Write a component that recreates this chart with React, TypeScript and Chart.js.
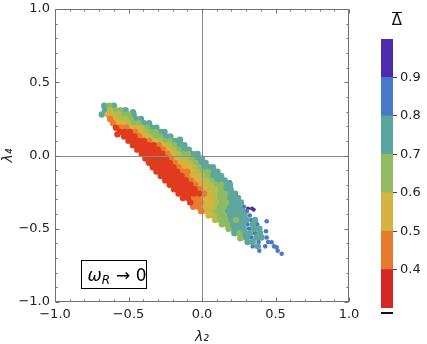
import { useEffect, useRef } from "react";
import { Chart, registerables } from "chart.js";

Chart.register(...registerables);

// ---- axis ticks ----
const majorTicks = [-1, -0.5, 0, 0.5, 1];
const minorTicks = [-0.9, -0.8, -0.7, -0.6, -0.4, -0.3, -0.2, -0.1, 0.1, 0.2, 0.3, 0.4, 0.6, 0.7, 0.8, 0.9];

// ---- colour bar ----
const colorbarEdges = [0.3, 0.4, 0.5, 0.6, 0.7, 0.8, 0.9, 1.0];
const colorbarColors = ["#d62626", "#e87a30", "#d5b343", "#92bb61", "#5ca59f", "#4878cc", "#4b2cae"];
const colorbarTicks = [0.4, 0.5, 0.6, 0.7, 0.8, 0.9];

// ---- scatter points (x, y pairs) grouped by Delta-bar colour ----
const redPts = [
  -0.585, 0.19, -0.575, 0.145,
  -0.56, 0.16, -0.525, 0.16, -0.49, 0.16,
  -0.53, 0.13, -0.495, 0.13, -0.46, 0.13,
  -0.5, 0.1, -0.465, 0.1, -0.43, 0.1, -0.395, 0.1,
  -0.47, 0.07, -0.435, 0.07, -0.4, 0.07, -0.365, 0.07, -0.33, 0.07,
  -0.44, 0.04, -0.405, 0.04, -0.37, 0.04, -0.335, 0.04, -0.3, 0.04,
  -0.41, 0.01, -0.375, 0.01, -0.34, 0.01, -0.305, 0.01, -0.27, 0.01,
  -0.385, -0.02, -0.35, -0.02, -0.315, -0.02, -0.28, -0.02, -0.245, -0.02,
  -0.36, -0.05, -0.325, -0.05, -0.29, -0.05, -0.255, -0.05, -0.22, -0.05,
  -0.335, -0.08, -0.3, -0.08, -0.265, -0.08, -0.23, -0.08, -0.195, -0.08,
  -0.31, -0.11, -0.275, -0.11, -0.24, -0.11, -0.205, -0.11, -0.17, -0.11,
  -0.28, -0.14, -0.245, -0.14, -0.21, -0.14, -0.175, -0.14, -0.14, -0.14,
  -0.25, -0.17, -0.215, -0.17, -0.18, -0.17, -0.145, -0.17, -0.11, -0.17,
  -0.22, -0.2, -0.185, -0.2, -0.15, -0.2, -0.115, -0.2, -0.08, -0.2,
  -0.19, -0.23, -0.155, -0.23, -0.12, -0.23, -0.085, -0.23, -0.05, -0.23,
  -0.16, -0.26, -0.125, -0.26, -0.09, -0.26, -0.055, -0.26, -0.02, -0.26,
  -0.13, -0.29, -0.095, -0.29,
  -0.08, -0.32,
];

const orangePts = [
  -0.625, 0.25, -0.605, 0.22,
  -0.55, 0.19, -0.515, 0.19,
  -0.455, 0.16, -0.425, 0.13, -0.36, 0.1, -0.295, 0.07, -0.265, 0.04,
  -0.235, 0.01, -0.21, -0.02, -0.185, -0.05, -0.16, -0.08,
  -0.135, -0.11, -0.1, -0.11,
  -0.105, -0.14, -0.075, -0.17, -0.045, -0.2, -0.015, -0.23, 0.015, -0.26,
  -0.06, -0.29, -0.025, -0.29,
  -0.045, -0.32, -0.01, -0.32,
  -0.06, -0.35, -0.025, -0.35,
  -0.005, -0.38,
];

const yellowPts = [
  -0.64, 0.28, -0.59, 0.25,
  -0.57, 0.22, -0.535, 0.22,
  -0.48, 0.19, -0.445, 0.19,
  -0.42, 0.16, -0.39, 0.13, -0.325, 0.1, -0.26, 0.07, -0.23, 0.04,
  -0.2, 0.01, -0.175, -0.02,
  -0.15, -0.05, -0.115, -0.05,
  -0.125, -0.08, -0.09, -0.08,
  -0.065, -0.11,
  -0.07, -0.14, -0.035, -0.14,
  -0.04, -0.17, -0.005, -0.17,
  -0.01, -0.2, 0.025, -0.2,
  0.02, -0.23, 0.05, -0.26,
  0.01, -0.29, 0.045, -0.29,
  0.025, -0.32, 0.06, -0.32,
  0.01, -0.35, 0.045, -0.35,
  0.03, -0.38, 0.045, -0.41,
];

const limePts = [
  -0.625, 0.31,
  -0.605, 0.28, -0.57, 0.28,
  -0.555, 0.25, -0.52, 0.25,
  -0.5, 0.22, -0.41, 0.19, -0.385, 0.16, -0.355, 0.13, -0.29, 0.1,
  -0.225, 0.07, -0.195, 0.04, -0.165, 0.01,
  -0.14, -0.02, -0.105, -0.02,
  -0.08, -0.05, -0.055, -0.08, -0.03, -0.11, 0.0, -0.14, 0.03, -0.17, 0.06, -0.2,
  0.055, -0.23, 0.09, -0.23,
  0.085, -0.26, 0.08, -0.29, 0.095, -0.32, 0.08, -0.35, 0.065, -0.38,
  0.08, -0.41, 0.09, -0.44,
];

const greenPts = [
  -0.63, 0.34,
  -0.59, 0.31, -0.555, 0.31,
  -0.535, 0.28, -0.5, 0.28,
  -0.485, 0.25,
  -0.465, 0.22, -0.43, 0.22,
  -0.375, 0.19,
  -0.35, 0.16, -0.315, 0.16,
  -0.32, 0.13, -0.285, 0.13,
  -0.255, 0.1, -0.22, 0.1,
  -0.19, 0.07, -0.16, 0.04,
  -0.13, 0.01, -0.095, 0.01,
  -0.07, -0.02, -0.045, -0.05, -0.02, -0.08,
  0.005, -0.11, 0.04, -0.11,
  0.035, -0.14, 0.065, -0.17,
  0.095, -0.2, 0.13, -0.2,
  0.125, -0.23,
  0.12, -0.26, 0.155, -0.26,
  0.115, -0.29, 0.15, -0.29,
  0.13, -0.32, 0.165, -0.32,
  0.115, -0.35, 0.15, -0.35,
  0.1, -0.38, 0.135, -0.38,
  0.115, -0.41, 0.15, -0.41,
  0.125, -0.44, 0.16, -0.44, 0.23, -0.44,
  0.135, -0.47, 0.17, -0.47,
  0.18, -0.5, 0.255, -0.53, 0.26, -0.565,
];

const tealPts = [
  -0.665, 0.34, -0.6, 0.34, -0.682, 0.28,
  -0.66, 0.31, -0.52, 0.31,
  -0.465, 0.28, -0.47, 0.295,
  -0.45, 0.25, -0.415, 0.25,
  -0.395, 0.22, -0.36, 0.22,
  -0.34, 0.19, -0.31, 0.19,
  -0.28, 0.16, -0.255, 0.16,
  -0.25, 0.13, -0.215, 0.13,
  -0.185, 0.1, -0.15, 0.1, -0.15, 0.107,
  -0.155, 0.07, -0.12, 0.07,
  -0.125, 0.04, -0.09, 0.04,
  -0.06, 0.01, -0.03, 0.01,
  -0.035, -0.02, 0.0, -0.02,
  -0.01, -0.05, 0.025, -0.05,
  0.015, -0.08, 0.05, -0.08, 0.075, -0.08,
  0.075, -0.11, 0.105, -0.11,
  0.07, -0.14, 0.105, -0.14, 0.13, -0.14,
  0.1, -0.17, 0.135, -0.17, 0.155, -0.17,
  0.165, -0.2, 0.19, -0.2,
  0.16, -0.23, 0.195, -0.23,
  0.19, -0.26, 0.225, -0.26,
  0.185, -0.29, 0.22, -0.29, 0.245, -0.29,
  0.2, -0.32, 0.235, -0.32, 0.265, -0.32,
  0.185, -0.35, 0.22, -0.35, 0.255, -0.35,
  0.17, -0.38, 0.205, -0.38, 0.24, -0.38, 0.275, -0.38,
  0.185, -0.41, 0.22, -0.41, 0.255, -0.41, 0.29, -0.41,
  0.195, -0.44, 0.265, -0.44, 0.3, -0.44, 0.36, -0.44,
  0.205, -0.47, 0.24, -0.47, 0.275, -0.47, 0.345, -0.47,
  0.215, -0.5, 0.25, -0.5, 0.285, -0.5, 0.355, -0.5, 0.39, -0.5,
  0.22, -0.53, 0.29, -0.53, 0.325, -0.53, 0.395, -0.53,
  0.265, -0.56, 0.3, -0.56, 0.37, -0.56, 0.405, -0.56,
  0.31, -0.59, 0.345, -0.59,
  0.38, -0.62,
];

const bluePts = [
  0.285, -0.35, 0.305, -0.38, 0.325, -0.41, 0.335, -0.44,
  0.31, -0.47, 0.375, -0.47,
  0.32, -0.5, 0.36, -0.53,
  0.335, -0.56, 0.44, -0.56,
  0.385, -0.59, 0.45, -0.59,
  0.345, -0.62, 0.43, -0.62, 0.49, -0.62,
  0.39, -0.65, 0.515, -0.65,
  0.44, -0.449, 0.435, -0.517, 0.474, -0.592, 0.508, -0.626, 0.542, -0.671,
  0.122, -0.164, 0.054, -0.096, 0.19, -0.183,
];

const purplePts = [0.313, -0.362, 0.34, -0.362, 0.352, -0.371, 0.349, -0.592, 0.361, -0.455];

const scatterGroups = [
  { label: "0.35", color: "#e03b1f", radius: 3.2, pts: redPts },
  { label: "0.45", color: "#ec7b2e", radius: 3.2, pts: orangePts },
  { label: "0.55", color: "#d8b23c", radius: 3.2, pts: yellowPts },
  { label: "0.62", color: "#b3bd4e", radius: 3.2, pts: limePts },
  { label: "0.67", color: "#8bbb62", radius: 3.2, pts: greenPts },
  { label: "0.75", color: "#5ea79c", radius: 3.2, pts: tealPts },
  { label: "0.85", color: "#4c78c8", radius: 2.3, pts: bluePts },
  { label: "0.95", color: "#4b2a9e", radius: 2, pts: purplePts },
];

const FONT = "'DejaVu Sans', sans-serif";
const fmt = (v: number) => (v < 0 ? "\u2212" : "") + Math.abs(v).toFixed(1);

function toXY(a: number[]) {
  const out: { x: number; y: number }[] = [];
  for (let i = 0; i + 1 < a.length; i += 2) out.push({ x: a[i], y: a[i + 1] });
  return out;
}

const mainPlugin = {
  id: "frameTicksAnno",
  afterDatasetsDraw(chart: any) {
    const { ctx, chartArea: a, scales } = chart;
    const xs = scales.x;
    const ys = scales.y;
    const L = Math.round(a.left) + 0.5;
    const R = Math.round(a.right) - 0.5;
    const T = Math.round(a.top) + 0.5;
    const B = Math.round(a.bottom) - 0.5;
    ctx.save();
    // zero lines
    ctx.strokeStyle = "#8c8c8c";
    ctx.lineWidth = 1;
    const x0 = Math.round(xs.getPixelForValue(0)) + 0.5;
    const y0 = Math.round(ys.getPixelForValue(0)) + 0.5;
    ctx.beginPath();
    ctx.moveTo(x0, T);
    ctx.lineTo(x0, B);
    ctx.moveTo(L, y0);
    ctx.lineTo(R, y0);
    ctx.stroke();
    // frame
    ctx.strokeStyle = "#707070";
    ctx.strokeRect(L, T, R - L, B - T);
    // inward ticks
    ctx.beginPath();
    const tick = (v: number, len: number) => {
      const px = Math.round(xs.getPixelForValue(v)) + 0.5;
      ctx.moveTo(px, B);
      ctx.lineTo(px, B - len);
      ctx.moveTo(px, T);
      ctx.lineTo(px, T + len);
      const py = Math.round(ys.getPixelForValue(v)) + 0.5;
      ctx.moveTo(L, py);
      ctx.lineTo(L + len, py);
      ctx.moveTo(R, py);
      ctx.lineTo(R - len, py);
    };
    majorTicks.forEach((v) => tick(v, 4));
    minorTicks.forEach((v) => tick(v, 2));
    ctx.stroke();
    // annotation box
    const w = a.right - a.left;
    const h = a.bottom - a.top;
    const bx = Math.round(a.left + 0.088 * w) + 0.5;
    const by = Math.round(a.top + 0.857 * h) + 0.5;
    const bw = Math.round(0.222 * w);
    const bh = Math.round(0.096 * h);
    ctx.fillStyle = "#ffffff";
    ctx.fillRect(bx, by, bw, bh);
    ctx.strokeStyle = "#000000";
    ctx.strokeRect(bx, by, bw, bh);
    ctx.fillStyle = "#000000";
    ctx.textBaseline = "alphabetic";
    ctx.textAlign = "left";
    const base = by + bh / 2 + 6;
    let tx = bx + 6;
    ctx.font = "italic 17px " + FONT;
    ctx.fillText("\u03c9", tx, base);
    tx += ctx.measureText("\u03c9").width;
    ctx.font = "italic 12px " + FONT;
    ctx.fillText("R", tx, base + 3);
    tx += ctx.measureText("R").width + 6;
    ctx.font = "17px " + FONT;
    ctx.fillText("\u2192 0", tx, base);
    ctx.restore();
  },
};

const cbPlugin = {
  id: "cbExtras",
  afterDraw(chart: any) {
    const { ctx, chartArea: a } = chart;
    ctx.save();
    ctx.fillStyle = "#111111";
    ctx.font = "15px " + FONT;
    ctx.textAlign = "center";
    ctx.textBaseline = "middle";
    const cx = a.right + 4;
    ctx.fillText("\u0394", cx, 21);
    ctx.fillRect(Math.round(cx - 5), 12, 10, 1);
    ctx.fillRect(Math.round(a.left), Math.round(a.bottom) + 4, Math.round(a.right - a.left), 2);
    ctx.restore();
  },
};

export default function App() {
  const mainRef = useRef<HTMLCanvasElement | null>(null);
  const cbRef = useRef<HTMLCanvasElement | null>(null);

  useEffect(() => {
    const main = new Chart(mainRef.current as HTMLCanvasElement, {
      type: "scatter",
      data: {
        datasets: scatterGroups.map((g) => ({
          label: g.label,
          data: toXY(g.pts),
          backgroundColor: g.color,
          borderWidth: 0,
          pointRadius: g.radius,
          pointHoverRadius: g.radius,
          pointBorderWidth: 0,
        })),
      },
      options: {
        responsive: false,
        animation: false,
        devicePixelRatio: 1,
        layout: { padding: { left: 0, right: 21, top: 9, bottom: 0 } },
        plugins: { legend: { display: false }, tooltip: { enabled: false } },
        scales: {
          x: {
            type: "linear",
            min: -1,
            max: 1,
            afterBuildTicks: (s: any) => {
              s.ticks = majorTicks.map((v) => ({ value: v }));
            },
            afterFit: (s: any) => {
              s.height = 42;
            },
            grid: { display: false, drawTicks: false },
            border: { display: false },
            ticks: { padding: 5, color: "#222", font: { family: FONT, size: 13 }, callback: (v: any) => fmt(Number(v)), maxRotation: 0 },
            title: { display: true, text: "\u03bb\u2082", color: "#222", font: { family: FONT, size: 14, style: "italic" }, padding: { top: 0, bottom: -2 } },
          },
          y: {
            type: "linear",
            min: -1,
            max: 1,
            afterBuildTicks: (s: any) => {
              s.ticks = majorTicks.map((v) => ({ value: v }));
            },
            afterFit: (s: any) => {
              s.width = 55;
              s.paddingTop = 0;
              s.paddingBottom = 0;
            },
            grid: { display: false, drawTicks: false },
            border: { display: false },
            ticks: { padding: 5, color: "#222", font: { family: FONT, size: 13 }, callback: (v: any) => fmt(Number(v)) },
            title: { display: true, text: "\u03bb\u2084", color: "#222", font: { family: FONT, size: 14, style: "italic" }, padding: 0 },
          },
        },
      } as any,
      plugins: [mainPlugin],
    });

    const cb = new Chart(cbRef.current as HTMLCanvasElement, {
      type: "bar",
      data: {
        labels: [""],
        datasets: colorbarColors.map((c, i) => ({
          data: [[colorbarEdges[i], colorbarEdges[i + 1]]] as any,
          backgroundColor: c,
          borderWidth: 0,
          grouped: false,
          barPercentage: 1,
          categoryPercentage: 1,
        })),
      },
      options: {
        responsive: false,
        animation: false,
        devicePixelRatio: 1,
        layout: { padding: { left: 11, right: 0, top: 39, bottom: 36 } },
        plugins: { legend: { display: false }, tooltip: { enabled: false } },
        scales: {
          x: { display: false },
          y: {
            type: "linear",
            position: "right",
            min: 0.3,
            max: 1.0,
            afterBuildTicks: (s: any) => {
              s.ticks = colorbarTicks.map((v) => ({ value: v }));
            },
            afterFit: (s: any) => {
              s.width = 34;
            },
            grid: { drawOnChartArea: false, drawTicks: true, tickLength: 4, color: "#444" },
            border: { display: false },
            ticks: { padding: 3, color: "#222", font: { family: FONT, size: 13 }, callback: (v: any) => Number(v).toFixed(1) },
          },
        },
      } as any,
      plugins: [cbPlugin],
    });

    return () => {
      main.destroy();
      cb.destroy();
    };
  }, []);

  return (
    <div style={{ position: "fixed", left: 0, top: 0, width: 427, height: 344, background: "#fff" }}>
      <canvas ref={mainRef} width={370} height={344} style={{ position: "absolute", left: 0, top: 0, width: 370, height: 344 }} />
      <canvas ref={cbRef} width={57} height={344} style={{ position: "absolute", left: 370, top: 0, width: 57, height: 344 }} />
    </div>
  );
}
